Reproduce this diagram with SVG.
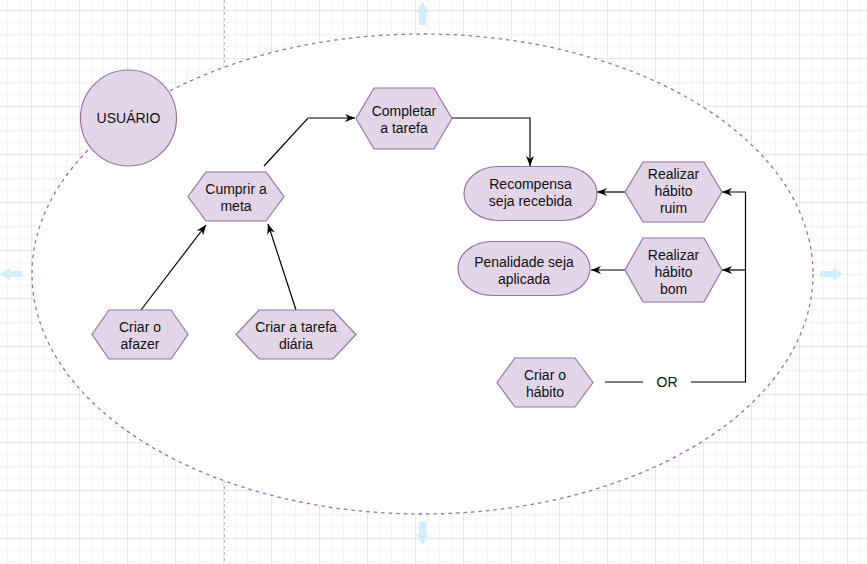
<svg xmlns="http://www.w3.org/2000/svg" width="867" height="564" viewBox="0 0 867 564">
  <defs>
    <pattern id="grid" x="31" y="10" width="48" height="48" patternUnits="userSpaceOnUse">
      <path d="M12.5,0 V48 M24.5,0 V48 M36.5,0 V48 M0,12.5 H48 M0,24.5 H48 M0,36.5 H48" stroke="#f4f4f4" stroke-width="1" fill="none"/>
      <path d="M0.5,0 V48 M0,0.5 H48" stroke="#e6e6e6" stroke-width="1" fill="none"/>
    </pattern>
    <marker id="arr" viewBox="0 0 10 8" refX="10" refY="4" markerWidth="10" markerHeight="8" markerUnits="userSpaceOnUse" orient="auto">
      <path d="M0,0 L10,4 L0,8 L3,4 Z" fill="#000"/>
    </marker>
  </defs>
  <style>
    .shape { fill: #e1d5e7; stroke: #9673a6; stroke-width: 1.2; }
    .edge { fill: none; stroke: #000; stroke-width: 1.2; }
    .lbl { font-family: "Liberation Sans", Arial, sans-serif; font-size: 14px; fill: #111; text-anchor: middle; }
    .hint { fill: #d2eefb; }
  </style>

  <!-- canvas background and grid -->
  <rect x="0" y="0" width="867" height="564" fill="#ffffff"/>
  <rect x="0" y="0" width="867" height="564" fill="url(#grid)"/>
  <line x1="224.5" y1="0" x2="224.5" y2="564" stroke="#bdbdbd" stroke-width="1" stroke-dasharray="3 3"/>

  <!-- boundary -->
  <g id="boundary">
    <ellipse cx="422.5" cy="274" rx="390.5" ry="240" fill="#ffffff" stroke="#9a6fae" stroke-width="1.3" stroke-dasharray="3.5 4"/>
  </g>

  <!-- hover direction hints -->
  <g id="hints">
    <path class="hint" d="M422.5,2 L429,12 L426,12 L426,25 L419,25 L419,12 L416,12 Z"/>
    <path class="hint" d="M422.5,545 L429,535 L426,535 L426,522 L419,522 L419,535 L416,535 Z"/>
    <path class="hint" d="M843,274 L833,267.5 L833,271 L820,271 L820,277 L833,277 L833,280.5 Z"/>
    <path class="hint" d="M0,274 L10,267.5 L10,271 L22,271 L22,277 L10,277 L10,280.5 Z"/>
  </g>

  <!-- connectors -->
  <g id="connectors">
    <path class="edge" d="M264,166 L308,118 L355,118" marker-end="url(#arr)"/>
    <path class="edge" d="M452,118 L530,118 L530,166" marker-end="url(#arr)"/>
    <path class="edge" d="M141,310 L206,225" marker-end="url(#arr)"/>
    <path class="edge" d="M296,310 L268,224" marker-end="url(#arr)"/>
    <path class="edge" d="M625,192 L597,192" marker-end="url(#arr)"/>
    <path class="edge" d="M625,270 L591,270" marker-end="url(#arr)"/>
    <path class="edge" d="M605,382 L643,382"/>
    <path class="edge" d="M691,382 L745.5,382 L745.5,192 L722,192" marker-end="url(#arr)"/>
    <path class="edge" d="M745.5,270 L722,270" marker-end="url(#arr)"/>
    <text class="lbl" x="667" y="387">OR</text>
  </g>

  <g id="usuario">
    <circle class="shape" cx="128.5" cy="118" r="48"/>
    <text class="lbl" x="128.5" y="123">USUÁRIO</text>
  </g>

  <g id="completar">
    <polygon class="shape" points="374,88 434,88 452,118.5 434,149 374,149 356,118.5"/>
    <text class="lbl" x="404" y="116">Completar</text>
    <text class="lbl" x="404" y="133">a tarefa</text>
  </g>

  <g id="cumprir">
    <polygon class="shape" points="206,172 266,172 284,196.5 266,221 206,221 188,196.5"/>
    <text class="lbl" x="236" y="194">Cumprir a</text>
    <text class="lbl" x="236" y="211">meta</text>
  </g>

  <g id="afazer">
    <polygon class="shape" points="109,310 171,310 188,334.5 171,359 109,359 92,334.5"/>
    <text class="lbl" x="140" y="332">Criar o</text>
    <text class="lbl" x="140" y="349">afazer</text>
  </g>

  <g id="tarefa-diaria">
    <polygon class="shape" points="259,310 333,310 356,334.5 333,359 259,359 236,334.5"/>
    <text class="lbl" x="296" y="332">Criar a tarefa</text>
    <text class="lbl" x="296" y="349">diária</text>
  </g>

  <g id="recompensa">
    <rect class="shape" x="464" y="166.5" width="133" height="54" rx="34" ry="27"/>
    <text class="lbl" x="530.5" y="189">Recompensa</text>
    <text class="lbl" x="530.5" y="206">seja recebida</text>
  </g>

  <g id="penalidade">
    <rect class="shape" x="458" y="241.5" width="132" height="54" rx="34" ry="27"/>
    <text class="lbl" x="524" y="267">Penalidade seja</text>
    <text class="lbl" x="524" y="284">aplicada</text>
  </g>

  <g id="habito-ruim">
    <polygon class="shape" points="643,162 704,162 722,192 704,222 643,222 625,192"/>
    <text class="lbl" x="673.5" y="179">Realizar</text>
    <text class="lbl" x="673.5" y="196">hábito</text>
    <text class="lbl" x="673.5" y="213">ruim</text>
  </g>

  <g id="habito-bom">
    <polygon class="shape" points="643,238 704,238 722,270 704,302 643,302 625,270"/>
    <text class="lbl" x="673.5" y="260">Realizar</text>
    <text class="lbl" x="673.5" y="277">hábito</text>
    <text class="lbl" x="673.5" y="294">bom</text>
  </g>

  <g id="criar-habito">
    <polygon class="shape" points="515,358 575,358 593,382.5 575,407 515,407 497,382.5"/>
    <text class="lbl" x="545" y="380">Criar o</text>
    <text class="lbl" x="545" y="397">hábito</text>
  </g>
</svg>
